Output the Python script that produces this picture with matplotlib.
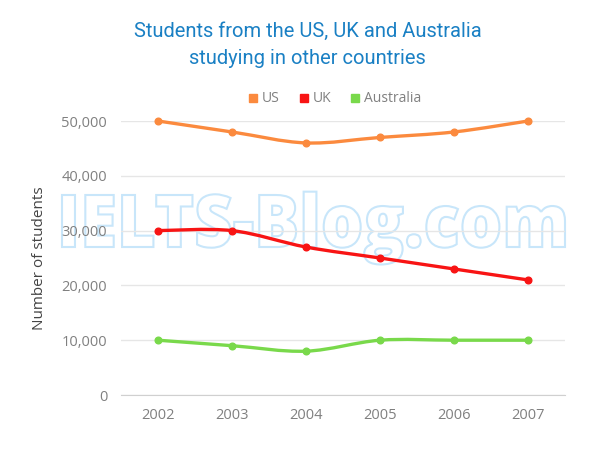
import numpy as np
import matplotlib
matplotlib.use('Agg')
import matplotlib.pyplot as plt
from matplotlib.path import Path
from matplotlib.patches import PathPatch
from matplotlib.lines import Line2D
from matplotlib.textpath import TextPath
from matplotlib.font_manager import FontProperties
from matplotlib.transforms import Affine2D

plt.rcParams['font.family'] = ['Open Sans', 'DejaVu Sans']

# data
years = ['2002', '2003', '2004', '2005', '2006', '2007']
us = [50000, 48000, 46000, 47000, 48000, 50000]
uk = [30000, 30000, 27000, 25000, 23000, 21000]
australia = [10000, 9000, 8000, 10000, 10000, 10000]
series_names = ['US', 'UK', 'Australia']
colors = ['#fb8a3e', '#f81414', '#79d94b']
yticks = [0, 10000, 20000, 30000, 40000, 50000]
watermark = 'IELTS-Blog.com'


def smooth_path(xs, ys, tension=0.5):
    # Catmull-Rom spline turned into cubic bezier segments
    xs = np.asarray(xs, float)
    ys = np.asarray(ys, float)
    pts = np.column_stack([xs, ys])
    verts = [pts[0]]
    codes = [Path.MOVETO]
    n = len(pts)
    for i in range(n - 1):
        p0 = pts[i - 1] if i > 0 else pts[i]
        p1 = pts[i]
        p2 = pts[i + 1]
        p3 = pts[i + 2] if i + 2 < n else pts[i + 1]
        c1 = p1 + (p2 - p0) * tension / 3
        c2 = p2 - (p3 - p1) * tension / 3
        verts += [c1, c2, p2]
        codes += [Path.CURVE4] * 3
    return Path(verts, codes)


fig = plt.figure(figsize=(6, 4.5), dpi=100)
ax = fig.add_axes([0.2017, 0.1222, 0.74, 0.6089])

x = np.arange(len(years))

# watermark, outlined letters fitted into a pixel box
prop = FontProperties(family='Open Sans', weight=800)
tp = TextPath((0, 0), watermark, size=1, prop=prop)
ext = tp.get_extents()
cap = TextPath((0, 0), 'I', size=1, prop=prop).get_extents().y1
sx = (565 - 62) / ext.width
sy = 52 / cap
wm_tf = Affine2D().translate(-ext.x0, 0).scale(sx, sy).translate(62, 450 - 247)
fig.add_artist(PathPatch(tp, transform=wm_tf, facecolor='none',
                         edgecolor='#c8e6fa', linewidth=1.5, zorder=0))

for vals, name, c in zip([us, uk, australia], series_names, colors):
    patch = PathPatch(smooth_path(x, vals), facecolor='none', edgecolor=c,
                      linewidth=2.4, clip_on=False, zorder=3)
    ax.add_patch(patch)
    ax.plot(x, vals, linestyle='none', marker='o', markersize=4.8,
            color=c, clip_on=False, zorder=4)

ax.set_xlim(-0.5, len(years) - 0.5)
ax.set_ylim(0, 50000)
ax.set_xticks(x)
ax.set_xticklabels(years)
ax.set_yticks(yticks)
ax.set_yticklabels(['{:,}'.format(v) for v in yticks])
ax.tick_params(axis='both', length=0, labelsize=10.5, labelcolor='#808080')
ax.tick_params(axis='x', pad=9)
ax.tick_params(axis='y', pad=10)
ax.grid(axis='y', color='#e6e6e6', linewidth=1)
ax.set_axisbelow(True)
for s in ['top', 'right', 'left']:
    ax.spines[s].set_visible(False)
ax.spines['bottom'].set_color('#d0d0d0')
ax.patch.set_alpha(0)

ax.set_ylabel('Number of students', fontsize=11, color='#444444', labelpad=10)

fig.text(0.513, 0.93, 'Students from the US, UK and Australia',
         ha='center', va='center', fontsize=14.5, color='#1a80c4',
         family=['Roboto', 'DejaVu Sans'])
fig.text(0.513, 0.87, 'studying in other countries',
         ha='center', va='center', fontsize=14.5, color='#1a80c4',
         family=['Roboto', 'DejaVu Sans'])

handles = [Line2D([], [], linestyle='none', marker='s', markersize=5.5, color=c)
           for c in colors]
fig.legend(handles, series_names, loc='center', bbox_to_anchor=(0.555, 0.78),
           ncol=3, frameon=False, fontsize=10, labelcolor='#808080',
           handletextpad=0.05, columnspacing=1.1, handlelength=1.2)

fig.savefig('out.png', dpi=100)
